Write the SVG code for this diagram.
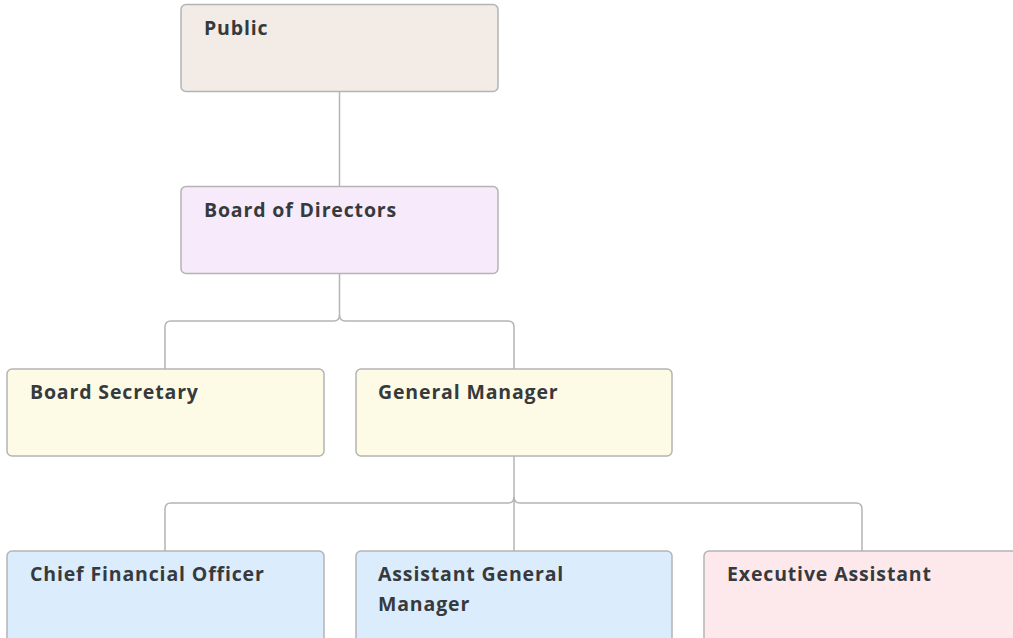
<svg xmlns="http://www.w3.org/2000/svg" width="1013" height="638" viewBox="0 0 1013 638">
<style>
.box{stroke:#b4b4b4;stroke-width:1.5}
.t{font-family:"Open Sans","Liberation Sans",sans-serif;font-weight:700;font-size:19.5px;letter-spacing:0.85px;fill:#363a3c}
.c{fill:none;stroke:#b4b4b4;stroke-width:1.5}
</style>
<rect width="1013" height="638" fill="#ffffff"/>
<g id="connectors">
<path class="c" d="M339.5 91 V186"/>
<path class="c" d="M339.5 273 V315 Q339.5 321 333.5 321 H171 Q165 321 165 327 V369"/>
<path class="c" d="M339.5 315 Q339.5 321 345.5 321 H508 Q514 321 514 327 V369"/>
<path class="c" d="M514 456 V551"/>
<path class="c" d="M514 497 Q514 503 508 503 H171 Q165 503 165 509 V551"/>
<path class="c" d="M514 497 Q514 503 520 503 H856 Q862 503 862 509 V551"/>
</g>
<g id="public"><rect class="box" x="181" y="4.5" width="317" height="87" rx="5" fill="#f3ebe5"/><text class="t" x="204" y="34.5">Public</text></g>
<g id="board"><rect class="box" x="181" y="186.5" width="317" height="87" rx="5" fill="#f7eafb"/><text class="t" x="204" y="216.5">Board of Directors</text></g>
<g id="secretary"><rect class="box" x="7" y="369" width="317" height="87" rx="5" fill="#fdfae6"/><text class="t" x="30" y="398.5">Board Secretary</text></g>
<g id="gm"><rect class="box" x="356" y="369" width="316" height="87" rx="5" fill="#fdfae6"/><text class="t" x="378" y="398.5">General Manager</text></g>
<g id="cfo"><rect class="box" x="7" y="551" width="317" height="92" rx="5" fill="#dbecfc"/><text class="t" x="30" y="580.5">Chief Financial Officer</text></g>
<g id="agm"><rect class="box" x="356" y="551" width="316" height="92" rx="5" fill="#dbecfc"/><text class="t" x="378" y="580.5">Assistant General</text><text class="t" x="378" y="610.5">Manager</text></g>
<g id="ea"><rect class="box" x="704" y="551" width="317" height="92" rx="5" fill="#fde9ec"/><text class="t" x="727" y="580.5">Executive Assistant</text></g>
</svg>
